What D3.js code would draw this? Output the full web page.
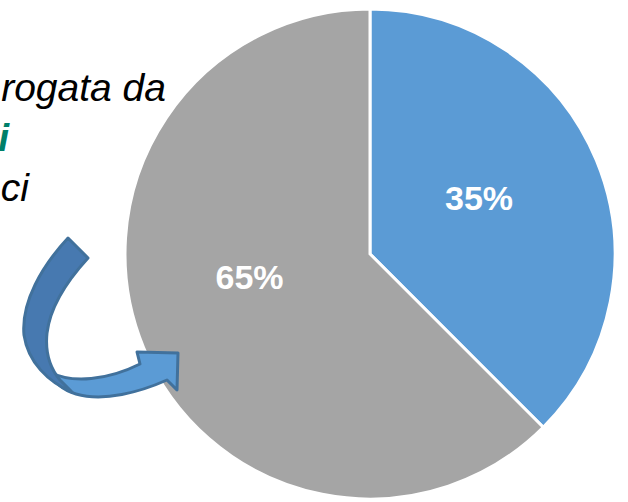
<!DOCTYPE html>
<html>
<head>
<meta charset="utf-8">
<script src="https://cdn.jsdelivr.net/npm/d3@7"></script>
<style>
  body { margin: 0; background: #fff; }
  svg { display: block; }
</style>
</head>
<body>
<div id="chart"></div>
<script>
// slices (angles), and the labels printed on them
var sliceNames = ["A", "B"];
var sliceValues = [37.5, 62.5];
var sliceLabels = ["35%", "65%"];
var sliceColors = ["#5b9bd5", "#a5a5a5"];

// cut-off caption on the left
var captionLines = ["rogata da", "i", "ci"];

var width = 628, height = 502;
var cx = 370, cy = 254, radius = 245;

var svg = d3.select("#chart").append("svg")
  .attr("width", width)
  .attr("height", height);

var pie = d3.pie().sort(null).value(function(d) { return d; });
var arcs = pie(sliceValues);

var arc = d3.arc().innerRadius(0).outerRadius(radius);
var labelArc = d3.arc().innerRadius(radius * 0.5).outerRadius(radius * 0.5);

var g = svg.append("g")
  .attr("transform", "translate(" + cx + "," + cy + ")");

g.selectAll("path.slice")
  .data(arcs)
  .enter().append("path")
  .attr("class", "slice")
  .attr("d", arc)
  .attr("fill", function(d, i) { return sliceColors[i]; })
  .attr("stroke", "#fff")
  .attr("stroke-width", 3)
  .attr("stroke-linejoin", "miter");

// excel-ish best fit moves the big label up a bit
var labelTurn = [-0.08, 0.21];
g.selectAll("text.lbl")
  .data(arcs)
  .enter().append("text")
  .attr("class", "lbl")
  .attr("transform", function(d, i) {
    var a = (d.startAngle + d.endAngle) / 2 + labelTurn[i];
    var c = labelArc.centroid({startAngle: a, endAngle: a});
    return "translate(" + c[0] + "," + c[1] + ")";
  })
  .attr("text-anchor", "middle")
  .attr("dy", "0.36em")
  .attr("fill", "#fff")
  .style("font-family", "Liberation Sans, Arial, sans-serif")
  .style("font-weight", "bold")
  .style("font-size", "34px")
  .text(function(d, i) { return sliceLabels[i]; });

// caption text, clipped at the left edge like the source
var capX = [166, 9, 29];
var capY = [101, 151, 201];
svg.selectAll("text.cap")
  .data(captionLines)
  .enter().append("text")
  .attr("class", "cap")
  .attr("x", function(d, i) { return capX[i]; })
  .attr("y", function(d, i) { return capY[i]; })
  .attr("text-anchor", "end")
  .style("font-family", "Liberation Sans, Arial, sans-serif")
  .style("font-style", "italic")
  .style("font-size", "39px")
  .style("font-weight", function(d, i) { return i == 1 ? "bold" : "normal"; })
  .attr("fill", function(d, i) { return i == 1 ? "#00806a" : "#000"; })
  .text(function(d) { return d; });

// curved block arrow pointing at the grey slice
var arrow = svg.append("g")
  .attr("stroke", "#41719c")
  .attr("stroke-width", 3)
  .attr("stroke-linejoin", "round");

arrow.append("path")
  .attr("fill", "#5b9bd5")
  .attr("d", "M50,372 C72,384 108,380 140,364 L137,352 L178,353 L177,390 L167,380 " +
             "C140,392 104,402 76,394 C62,390 54,382 50,372 Z");

arrow.append("path")
  .attr("fill", "#4779b0")
  .attr("d", "M68,238 L88,258 C66,282 50,308 47,333 C45,352 50,368 60,380 " +
             "L72,392 C48,382 28,362 24,335 C21,302 42,266 68,238 Z");
</script>
</body>
</html>
